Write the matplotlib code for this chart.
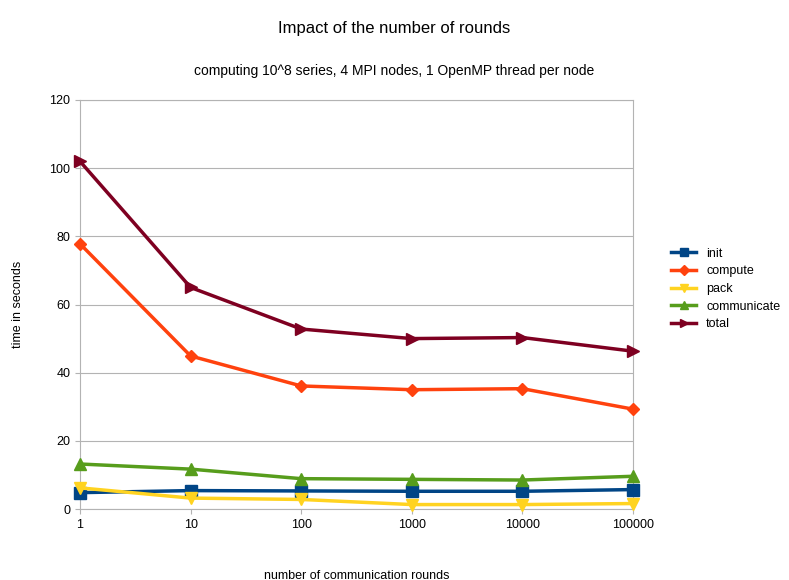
import matplotlib.pyplot as plt

rounds = ["1", "10", "100", "1000", "10000", "100000"]
init = [4.8, 5.4, 5.3, 5.2, 5.2, 5.7]
compute = [77.8, 44.9, 36.1, 35.0, 35.3, 29.3]
pack = [6.2, 3.2, 2.8, 1.3, 1.3, 1.6]
communicate = [13.2, 11.7, 8.9, 8.7, 8.5, 9.6]
total = [102.0, 65.0, 52.8, 50.0, 50.3, 46.3]

plt.rcParams['font.family'] = ['Liberation Sans', 'DejaVu Sans']
fig = plt.figure(figsize=(7.89, 5.80), dpi=100)
ax = fig.add_axes([80/789, 71/580, 553/789, 409/580])
x = range(len(rounds))
series = [
    (init, 'init', '#004586', 's'),
    (compute, 'compute', '#ff420e', 'D'),
    (pack, 'pack', '#ffd320', 'v'),
    (communicate, 'communicate', '#579d1c', '^'),
    (total, 'total', '#7e0021', '>'),
]
for vals, name, color, m in series:
    ms = 6 if m == 'D' else 8
    ax.plot(x, vals, color=color, marker=m, markersize=ms, linewidth=2.5,
            label=name, clip_on=False, zorder=3)

ax.set_xlim(0, 5)
ax.set_ylim(0, 120)
ax.set_yticks(range(0, 121, 20))
ax.set_xticks(list(x))
ax.set_xticklabels(rounds)
ax.grid(True, axis='y', color='#b3b3b3', linewidth=0.8)
ax.set_axisbelow(True)
for s in ax.spines.values():
    s.set_color('#b3b3b3')
ax.tick_params(colors='#b3b3b3', labelcolor='black', labelsize=9)
ax.set_xlabel('number of communication rounds', fontsize=9, labelpad=28)
ax.set_ylabel('time in seconds', fontsize=9, labelpad=18)
fig.text(0.5, 1 - 28/580, 'Impact of the number of rounds', ha='center', va='center', fontsize=12)
fig.text(0.5, 1 - 71/580, 'computing 10^8 series, 4 MPI nodes, 1 OpenMP thread per node',
         ha='center', va='center', fontsize=10)
fig.legend(loc='center left', bbox_to_anchor=(660/789, 1 - 289/580), frameon=False,
           fontsize=9, handlelength=2, labelspacing=0.45, markerscale=0.8)
fig.savefig('out.png', dpi=100)
